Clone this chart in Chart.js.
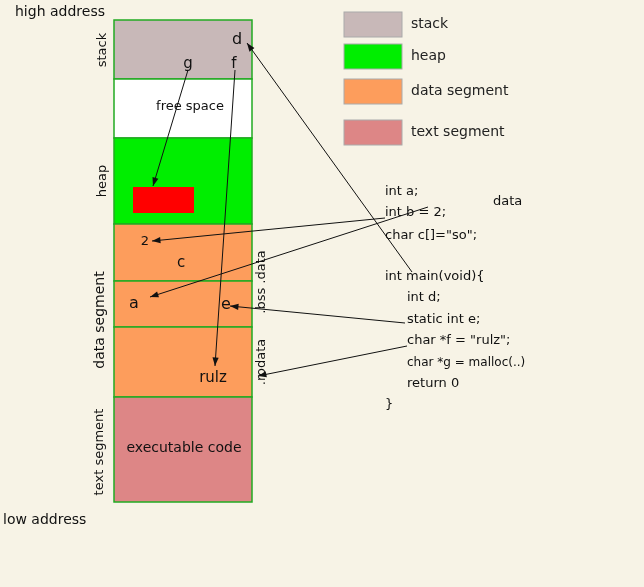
<!DOCTYPE html><html><head><script src="https://cdn.jsdelivr.net/npm/chart.js@4"></script>
<style>html,body{margin:0;background:#f7f3e6}#w{width:644px;height:587px}</style></head><body><div id="w"><canvas id="c"></canvas></div>
<script>
// segments: [label, x0, x1, y0, y1, color]
const segNames=["stack","free","heap","dataC","dataA","dataRulz","text","redBlock"];
const segX0=[114,114,114,114,114,114,114,133];
const segX1=[252,252,252,252,252,252,252,194];
const segY0=[20,79,138,224,281,327,397,187];
const segY1=[79,138,224,281,327,397,502,213];
const segColors=["#c8b8b8","#ffffff","#00ee00","#fd9d5c","#fd9d5c","#fd9d5c","#dd8686","#ff0000"];
const legendLabels=["stack","heap","data segment","text segment"];
const legendY=[12,44,79,120];
const legendColors=["#c8b8b8","#00ee00","#fd9d5c","#dd8686"];
const texts=[["high address",15,12,14,0],["low address",3,520,14,0],["stack",103,50,13,1],["heap",103,181,13,1],["data segment",100,320,14,1],["text segment",100,452,13,1],[".bss .data",262,282,13,1],[".rodata",262,362,13,1],
["d",237,40,16,0],["f",234,64,15,0],["g",188,64,15,0],["free space",190,107,13,0],["2",145,242,13,0],["c",181,263,15,0],["a",134,304,16,0],["e",226,305,16,0],["rulz",213,378,15,0],["executable code",184,448,14,0],
["int a;",385,192,13,2],["int b = 2;",385,213,13,2],["char c[]=\"so\";",385,236,13,2],["data",493,202,13,2],["int main(void){",385,277,13,2],["int d;",407,298,13,2],["static int e;",407,320,13,2],["char *f = \"rulz\";",407,341,13,2],["char *g = malloc(..)",407,363,12,2],["return 0",407,384,13,2],["}",385,405,13,2]];
const arrowFrom=[[188,70],[235,70],[412,272],[385,218],[428,207],[405,323],[407,346]];
const arrowTo=[[153,186],[215,366],[247,43],[152,241],[150,297],[230,306],[258,376]];
const draw={id:'d',afterDatasetsDraw(ch){const c=ch.ctx,X=ch.scales.x,Y=ch.scales.y;const px=v=>X.getPixelForValue(v),py=v=>Y.getPixelForValue(v);
c.save();
segNames.forEach((n,i)=>{c.fillStyle=segColors[i];c.fillRect(px(segX0[i]),py(segY0[i]),px(segX1[i])-px(segX0[i]),py(segY1[i])-py(segY0[i]));if(i<7){c.strokeStyle='#22aa22';c.lineWidth=1.5;c.strokeRect(px(segX0[i]),py(segY0[i]),px(segX1[i])-px(segX0[i]),py(segY1[i])-py(segY0[i]));}});
legendLabels.forEach((l,i)=>{c.fillStyle=legendColors[i];c.fillRect(px(344),py(legendY[i]),58,25);c.strokeStyle='#aaa';c.lineWidth=1;c.strokeRect(px(344),py(legendY[i]),58,25);c.fillStyle='#222';c.font='14px "DejaVu Sans"';c.textAlign='left';c.textBaseline='middle';c.fillText(l,px(411),py(legendY[i]+12));});
texts.forEach(t=>{c.save();c.fillStyle='#111';c.font=t[3]+'px "DejaVu Sans"';c.textBaseline='middle';c.translate(px(t[1]),py(t[2]));if(t[4]==1){c.rotate(-Math.PI/2);c.textAlign='center';}else if(t[4]==2){c.textAlign='left';}else{c.textAlign=t[1]<20?'left':'center';}c.fillText(t[0],0,0);c.restore();});
arrowFrom.forEach((f,i)=>{const a=[px(f[0]),py(f[1])],b=[px(arrowTo[i][0]),py(arrowTo[i][1])];c.strokeStyle='#111';c.fillStyle='#111';c.lineWidth=1;c.beginPath();c.moveTo(a[0],a[1]);c.lineTo(b[0],b[1]);c.stroke();const an=Math.atan2(b[1]-a[1],b[0]-a[0]);c.beginPath();c.moveTo(b[0],b[1]);c.lineTo(b[0]-9*Math.cos(an-0.35),b[1]-9*Math.sin(an-0.35));c.lineTo(b[0]-9*Math.cos(an+0.35),b[1]-9*Math.sin(an+0.35));c.closePath();c.fill();});
c.restore();}};
new Chart(document.getElementById('c'),{type:'scatter',data:{datasets:[{data:[]}]},plugins:[draw],
options:{responsive:true,maintainAspectRatio:false,animation:false,layout:{padding:0},plugins:{legend:{display:false},tooltip:{enabled:false}},
scales:{x:{type:'linear',min:0,max:644,display:false},y:{type:'linear',min:0,max:587,reverse:true,display:false}}}});
</script></body></html>
